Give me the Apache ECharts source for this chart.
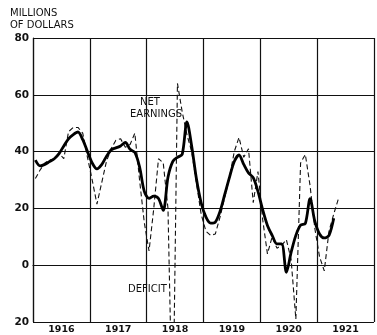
<!DOCTYPE html>
<html>
<head>
<meta charset="utf-8" />
<script src="https://cdn.jsdelivr.net/npm/echarts@6/dist/echarts.min.js"></script>
<style>
  html,
  body {
    margin: 0;
    padding: 0;
    background: #fff;
  }
  #chart {
    width: 377px;
    height: 335px;
  }
</style>
</head>
<body>
<div id="chart"></div>
<script>
// years on the x axis, one label per year
const years = ["1916", "1917", "1918", "1919", "1920", "1921"];

// solid line - net earnings, by month from Jan 1916
const netEarnings = [
  37, 35, 35.5, 36.5, 37.5, 39.3, 42, 44.5, 46, 46.9, 44.2, 40,
  36, 33.9, 35.4, 38.3, 40.6, 41.3, 42, 43.2, 40.8, 39.7, 34.6, 26,
  23.5, 24.3, 23.5, 19.3, 31, 36.5, 38, 39, 50.5, 42, 30.5, 22,
  17, 14.8, 15.2, 19, 25, 31, 36.5, 38.8, 35.5, 32.5, 30.8, 26,
  19.5, 14, 10.5, 7.5, 7.5, -2.5, 4.5, 10.5, 14.1, 14.7, 23.4, 15.5,
  11, 9.6, 10.5, 16.5,
];

// dashed line - monthly figures (deficit below zero)
const monthlyEarnings = [
  30.5, 33.5, 36, 37, 37.5, 39.5, 37.5, 47, 48.5, 48.5, 46.5, 38,
  30, 21.5, 29, 36.5, 41, 44, 44.5, 41.5, 42.5, 46.5, 30, 15,
  5, 20, 37.5, 36, 20, -60, 64, 54, 46, 40, 29, 18,
  12, 10.5, 11, 17, 24, 31, 40, 45, 38, 41, 22, 33,
  16, 4, 10, 6, 7, 9, 2, -19, 36, 39, 28, 13,
  3, -2, 12, 18, 23.5,
];

const yTicks = [-20, 0, 20, 40, 60, 80];

const chart = echarts.init(document.getElementById("chart"));

const font = "DejaVu Sans";

// small helper for the lettering on the chart
const note = (text, left, top) => ({
  type: "text",
  left: left,
  top: top,
  style: {
    text: text,
    fontFamily: font,
    fontSize: 10,
    lineHeight: 12,
    fill: "#111",
  },
});

const option = {
  animation: false,
  grid: {
    left: 33,
    right: -3,
    top: 38,
    bottom: 12,
  },
  xAxis: [
    {
      // labels sit in the middle of each year
      type: "value",
      min: 0,
      max: 72,
      interval: 6,
      axisLine: { show: true, lineStyle: { color: "#111", width: 1.2 } },
      axisTick: { show: false },
      splitLine: { show: false },
      axisLabel: {
        margin: 3,
        color: "#111",
        fontFamily: font,
        fontWeight: "bold",
        fontSize: 9.5,
        formatter: (v) => (v % 12 === 6 ? years[(v - 6) / 12] : ""),
      },
    },
    {
      // vertical grid lines at year boundaries
      type: "value",
      min: 0,
      max: 72,
      interval: 12,
      position: "bottom",
      axisLine: { show: false },
      axisTick: { show: false },
      axisLabel: { show: false },
      splitLine: { show: true, lineStyle: { color: "#111", width: 1.2 } },
    },
  ],
  yAxis: {
    type: "value",
    min: yTicks[0],
    max: yTicks[yTicks.length - 1],
    interval: 20,
    axisLine: { show: true, lineStyle: { color: "#111", width: 1.2 } },
    axisTick: { show: false },
    splitLine: { show: true, lineStyle: { color: "#111", width: 1.2 } },
    axisLabel: {
      margin: 4,
      color: "#111",
      fontFamily: font,
      fontWeight: "bold",
      fontSize: 10.5,
      formatter: (v) => String(Math.abs(v)),
    },
  },
  graphic: [
    note("MILLIONS\nOF DOLLARS", 10, 7),
    note("NET", 140, 96),
    note("EARNINGS", 130, 108),
    note("DEFICIT", 128, 283),
  ],
  series: [
    {
      name: "monthly",
      type: "line",
      xAxisIndex: 0,
      data: monthlyEarnings.map((v, i) => [i + 0.5, v]),
      showSymbol: false,
      clip: true,
      lineStyle: { color: "#111", width: 1.1, type: [5, 3] },
    },
    {
      name: "net earnings",
      type: "line",
      xAxisIndex: 0,
      data: netEarnings.map((v, i) => [i + 0.5, v]),
      showSymbol: false,
      smooth: 0.3,
      clip: true,
      lineStyle: { color: "#000", width: 2.8 },
    },
  ],
};

chart.setOption(option);
</script>
</body>
</html>
